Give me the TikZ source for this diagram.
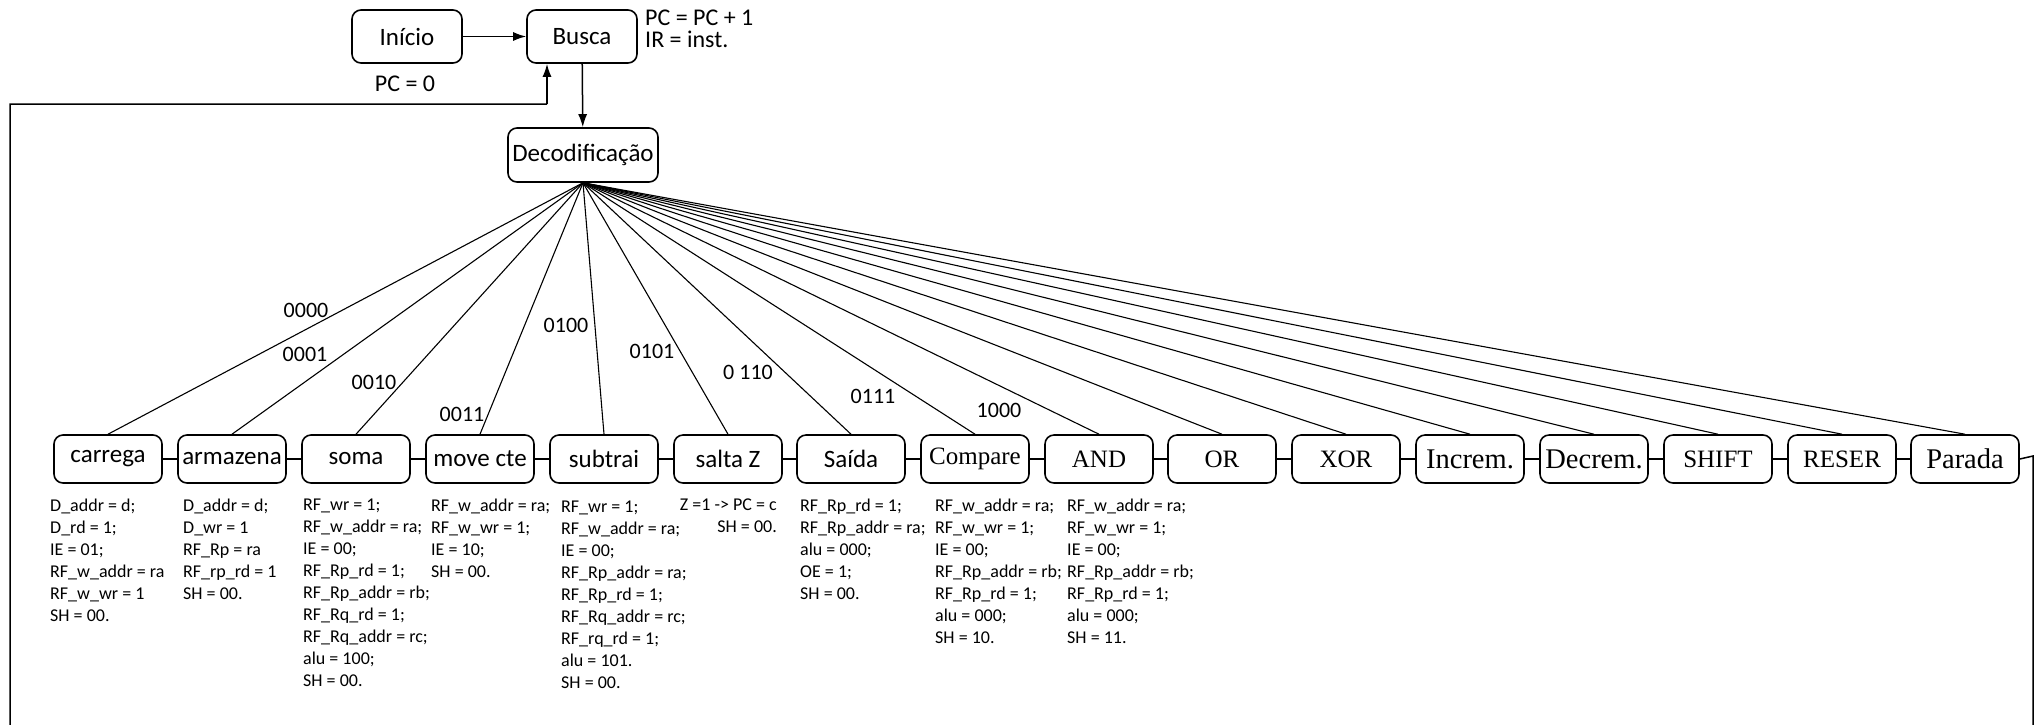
\documentclass[tikz,border=0pt]{standalone}
\usepackage{fontspec}
\setmainfont{Carlito}
\newfontfamily\tms{Liberation Serif}
\usetikzlibrary{arrows.meta}
\begin{document}
\begin{tikzpicture}[x=1pt,y=-1pt,
 box/.style={draw,line width=1.6pt,rounded corners=9pt,minimum width=108pt,minimum height=48pt,inner sep=0pt,font=\fontsize{25}{30}\selectfont},
 tbox/.style={box,font=\tms\fontsize{25}{30}\selectfont},
 tboxb/.style={box,font=\tms\fontsize{28.5}{32}\selectfont},
 code/.style={anchor=north west,inner sep=0pt,align=left,font=\fontsize{18}{22}\selectfont},
 lab/.style={inner sep=0pt,font=\fontsize{22}{26}\selectfont},
 note/.style={inner sep=0pt,font=\fontsize{24}{26}\selectfont},
 conn/.style={line width=1.5pt},
 fan/.style={line width=1.1pt},
 arr/.style={line width=1.5pt,-{Latex[length=13pt,width=9pt]}},
]
\useasboundingbox (0,0) rectangle (2036,724);
\fill[white] (0,0) rectangle (2036,724);

% top
\node[box,minimum width=110pt,minimum height=53pt] (ini) at (407,36.5) {Início};
\node[box,minimum width=110pt,minimum height=53pt] (bus) at (582,36.5) {Busca};
\node[box,minimum width=150pt,minimum height=54pt] (dec) at (583,155) {Decodificação};
\node[note,anchor=base west] (n1) at (645,25) {PC = PC + 1};
\node[note,anchor=base west] (n2) at (645,47) {IR = inst.};
\node[note,anchor=base] (n3) at (405,91) {PC = 0};

\draw[arr] (ini) -- (bus);
\draw[arr] (bus) -- (dec);

% row
\node[box] (b1) at (108,459) {carrega};
\node[box] (b2) at (232,459) {armazena};
\node[box] (b3) at (356,459) {soma};
\node[box] (b4) at (480,459) {move cte};
\node[box] (b5) at (604,459) {subtrai};
\node[box] (b6) at (728,459) {salta Z};
\node[box] (b7) at (851,459) {Saída};
\node[tbox] (b8) at (975,459) {Compare};
\node[tbox] (b9) at (1099,459) {AND};
\node[tbox] (b10) at (1222,459) {OR};
\node[tbox] (b11) at (1346,459) {XOR};
\node[tboxb] (b12) at (1470,459) {Increm.};
\node[tboxb] (b13) at (1594,459) {Decrem.};
\node[tbox] (b14) at (1718,459) {SHIFT};
\node[tbox] (b15) at (1842,459) {RESER};
\node[tboxb] (b16) at (1965,459) {Parada};

\foreach \i [evaluate=\i as \j using int(\i+1)] in {1,...,15}
  \draw[conn] (b\i.east) -- (b\j.west);
\foreach \i in {1,...,16}
  \draw[fan] (dec.south) -- (b\i.north);

% labels
\node[lab] (l0) at (306,310) {0000};
\node[lab] (l1) at (305,354) {0001};
\node[lab] (l2) at (374,382) {0010};
\node[lab] (l3) at (462,414) {0011};
\node[lab] (l4) at (566,325) {0100};
\node[lab] (l5) at (652,351) {0101};
\node[lab] (l6) at (748,372) {0 110};
\node[lab] (l7) at (873,396) {0111};
\node[lab] (l8) at (999,410) {1000};

% code
\node[code] (c1) at (50,499) {D\_addr = d;\\D\_rd = 1;\\IE = 01;\\RF\_w\_addr = ra\\RF\_w\_wr = 1\\SH = 00.};
\node[code] (c2) at (183,499) {D\_addr = d;\\D\_wr = 1\\RF\_Rp = ra\\RF\_rp\_rd = 1\\SH = 00.};
\node[code] (c3) at (303,499) {RF\_wr = 1;\\RF\_w\_addr = ra;\\IE = 00;\\RF\_Rp\_rd = 1;\\RF\_Rp\_addr = rb;\\RF\_Rq\_rd = 1;\\RF\_Rq\_addr = rc;\\alu = 100;\\SH = 00.};
\node[code] (c4) at (431,499) {RF\_w\_addr = ra;\\RF\_w\_wr = 1;\\IE = 10;\\SH = 00.};
\node[code] (c5) at (561,501) {RF\_wr = 1;\\RF\_w\_addr = ra;\\IE = 00;\\RF\_Rp\_addr = ra;\\RF\_Rp\_rd = 1;\\RF\_Rq\_addr = rc;\\RF\_rq\_rd = 1;\\alu = 101.\\SH = 00.};
\node[code,anchor=north east,align=right] (c6) at (777,499) {Z =1 -> PC = c\\SH = 00.};
\node[code] (c7) at (800,499) {RF\_Rp\_rd = 1;\\RF\_Rp\_addr = ra;\\alu = 000;\\OE = 1;\\SH = 00.};
\node[code] (c8) at (935,499) {RF\_w\_addr = ra;\\RF\_w\_wr = 1;\\IE = 00;\\RF\_Rp\_addr = rb;\\RF\_Rp\_rd = 1;\\alu = 000;\\SH = 10.};
\node[code] (c9) at (1067,499) {RF\_w\_addr = ra;\\RF\_w\_wr = 1;\\IE = 00;\\RF\_Rp\_addr = rb;\\RF\_Rp\_rd = 1;\\alu = 000;\\SH = 11.};

% feedback loop
\coordinate (r1) at (2033,456);
\coordinate (r2) at (2033,760);
\coordinate (l2c) at (10,760);
\coordinate (l1c) at (10,104);
\coordinate (ta) at (547,104);
\draw[conn] (b16.east) -- (r1) -- (r2) -- (l2c) -- (l1c) -- (ta);
\draw[arr] (ta) -- (ta |- bus.south);
\end{tikzpicture}
\end{document}
